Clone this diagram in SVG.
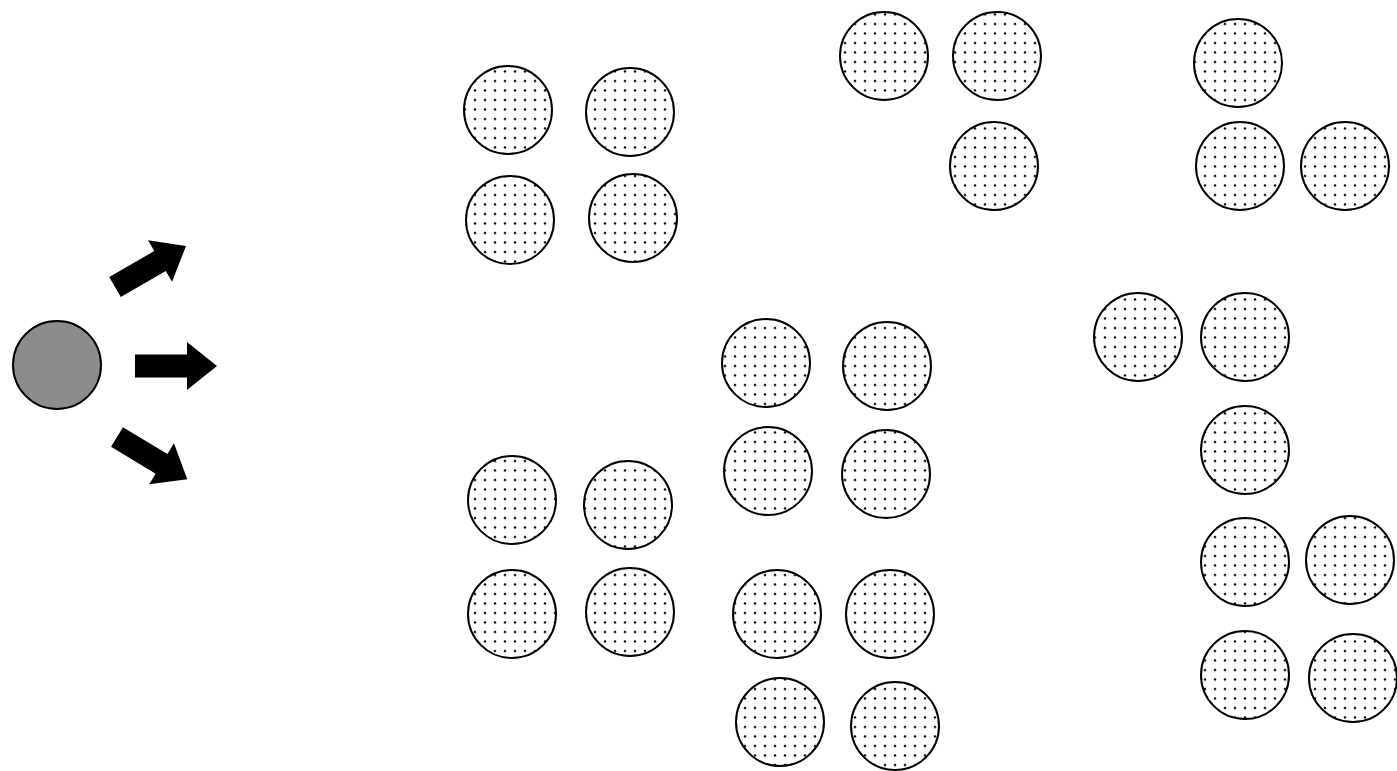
<svg xmlns="http://www.w3.org/2000/svg" width="1397" height="771" viewBox="0 0 1397 771">
<defs>
<pattern id="dots" width="10" height="9.5" patternUnits="userSpaceOnUse">
<rect width="10" height="9.5" fill="#fff"/>
<circle cx="5" cy="5" r="1.2" fill="#000"/>
</pattern>
<path id="arr" d="M0,-11.5 L52,-11.5 L52,-24 L82,0 L52,24 L52,11.5 L0,11.5 Z"/>
</defs>
<style>
.c{fill:url(#dots);stroke:#000;stroke-width:2}
.s{fill:#8c8c8c;stroke:#000;stroke-width:2}
.a{fill:#000}
</style>
<rect width="1397" height="771" fill="#fff"/>
<g id="source"><circle class="s" cx="57" cy="365" r="44"/></g>
<g id="connectors">
<use href="#arr" class="a" transform="translate(115,287) rotate(-30)"/>
<use href="#arr" class="a" transform="translate(135,366)"/>
<use href="#arr" class="a" transform="translate(117,437) rotate(31)"/>
</g>
<g id="groupA">
<circle class="c" cx="508" cy="110" r="44"/>
<circle class="c" cx="630" cy="112" r="44"/>
<circle class="c" cx="510" cy="220" r="44"/>
<circle class="c" cx="633" cy="218" r="44"/>
</g>
<g id="groupB">
<circle class="c" cx="884" cy="56" r="44"/>
<circle class="c" cx="997" cy="56" r="44"/>
<circle class="c" cx="994" cy="166" r="44"/>
</g>
<g id="groupC">
<circle class="c" cx="1238" cy="63" r="44"/>
<circle class="c" cx="1240" cy="166" r="44"/>
<circle class="c" cx="1345" cy="166" r="44"/>
</g>
<g id="groupD">
<circle class="c" cx="766" cy="363" r="44"/>
<circle class="c" cx="887" cy="366" r="44"/>
<circle class="c" cx="768" cy="471" r="44"/>
<circle class="c" cx="886" cy="474" r="44"/>
</g>
<g id="groupE">
<circle class="c" cx="512" cy="500" r="44"/>
<circle class="c" cx="628" cy="505" r="44"/>
<circle class="c" cx="512" cy="614" r="44"/>
<circle class="c" cx="630" cy="612" r="44"/>
</g>
<g id="groupF">
<circle class="c" cx="777" cy="614" r="44"/>
<circle class="c" cx="890" cy="614" r="44"/>
<circle class="c" cx="780" cy="722" r="44"/>
<circle class="c" cx="895" cy="726" r="44"/>
</g>
<g id="groupG">
<circle class="c" cx="1138" cy="337" r="44"/>
<circle class="c" cx="1245" cy="337" r="44"/>
<circle class="c" cx="1245" cy="450" r="44"/>
<circle class="c" cx="1245" cy="562" r="44"/>
<circle class="c" cx="1350" cy="560" r="44"/>
<circle class="c" cx="1245" cy="675" r="44"/>
<circle class="c" cx="1353" cy="678" r="44"/>
</g>
</svg>
